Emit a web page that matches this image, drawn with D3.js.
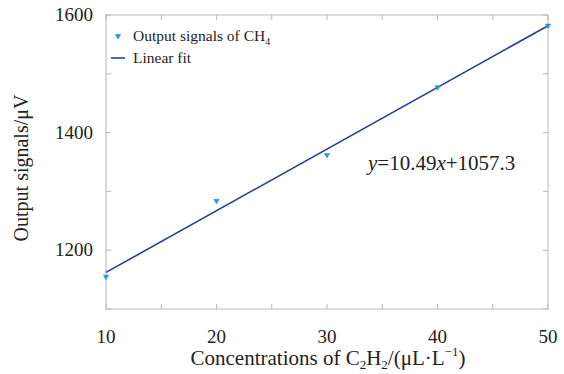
<!DOCTYPE html>
<html><head><meta charset="utf-8">
<script src="https://cdn.jsdelivr.net/npm/d3@7"></script>
<style>body{margin:0;background:#fff}text{font-family:"Liberation Serif","Times New Roman",serif;fill:#222}</style>
</head><body>
<svg id="c" width="564" height="374"></svg>
<script>
const concentrations = [10, 20, 30, 40, 50];
const outputSignals = [1155, 1284, 1362, 1477, 1582];
const fitSlope = 10.49, fitIntercept = 1057.3;
const xTickLabels = [10, 20, 30, 40, 50];
const yTickLabels = [1200, 1400, 1600];

const svg = d3.select("#c");
const L = 106, R = 548, T = 15, B = 309;
const x = d3.scaleLinear().domain([10, 50]).range([L, R]);
const y = d3.scaleLinear().domain([1100, 1600]).range([B, T]);
const frame = "#b8b8b8";

svg.append("rect").attr("x", L).attr("y", T).attr("width", R - L).attr("height", B - T)
  .attr("fill", "none").attr("stroke", frame).attr("stroke-width", 1);

const xt = d3.range(10, 50.1, 5), yt = d3.range(1100, 1600.1, 100);
const tl = 5;
xt.forEach(v => {
  svg.append("line").attr("x1", x(v)).attr("x2", x(v)).attr("y1", B).attr("y2", B - tl).attr("stroke", frame);
  svg.append("line").attr("x1", x(v)).attr("x2", x(v)).attr("y1", T).attr("y2", T + tl).attr("stroke", frame);
});
yt.forEach(v => {
  svg.append("line").attr("x1", L).attr("x2", L + tl).attr("y1", y(v)).attr("y2", y(v)).attr("stroke", frame);
  svg.append("line").attr("x1", R).attr("x2", R - tl).attr("y1", y(v)).attr("y2", y(v)).attr("stroke", frame);
});

xTickLabels.forEach(v => svg.append("text").attr("x", x(v)).attr("y", 343).attr("text-anchor", "middle")
  .attr("font-size", 19).text(v));
yTickLabels.forEach(v => svg.append("text").attr("x", 93).attr("y", y(v) + 6).attr("text-anchor", "end")
  .attr("font-size", 19).text(v));

const xl = svg.append("text").attr("x", 328).attr("y", 365).attr("text-anchor", "middle").attr("font-size", 21);
xl.append("tspan").text("Concentrations of C");
xl.append("tspan").attr("font-size", 13).attr("dy", 4).text("2");
xl.append("tspan").attr("dy", -4).text("H");
xl.append("tspan").attr("font-size", 13).attr("dy", 4).text("2");
xl.append("tspan").attr("dy", -4).text("/(μL·L");
xl.append("tspan").attr("font-size", 13).attr("dy", -9).text("−1");
xl.append("tspan").attr("dy", 9).text(")");

svg.append("text").attr("transform", "translate(28,168) rotate(-90)").attr("text-anchor", "middle")
  .attr("font-size", 20).text("Output signals/μV");

const lineColor = "#2b3d9c", ptColor = "#1e9ad6";
svg.append("path").datum([10, 50])
  .attr("d", d3.line().x(d => x(d)).y(d => y(fitSlope * d + fitIntercept)))
  .attr("stroke", lineColor).attr("stroke-width", 1.6).attr("fill", "none");

const tri = d3.symbol().type(d3.symbolTriangle).size(12);
svg.selectAll(".pt").data(concentrations).enter().append("path")
  .attr("d", tri).attr("fill", ptColor).attr("stroke", ptColor).attr("stroke-width", 0.6)
  .attr("transform", (d, i) => `translate(${x(d)},${y(outputSignals[i])}) rotate(180)`);

svg.append("path").attr("d", tri).attr("fill", ptColor).attr("stroke", ptColor).attr("stroke-width", 0.6)
  .attr("transform", "translate(118,36) rotate(180)");
const lg = svg.append("text").attr("x", 133).attr("y", 41).attr("font-size", 15.5);
lg.append("tspan").text("Output signals of CH");
lg.append("tspan").attr("font-size", 10).attr("dy", 4).text("4");
svg.append("line").attr("x1", 111).attr("x2", 125).attr("y1", 58).attr("y2", 58).attr("stroke", lineColor).attr("stroke-width", 1.6);
svg.append("text").attr("x", 133).attr("y", 63).attr("font-size", 15.5).text("Linear fit");

const eq = svg.append("text").attr("x", 368).attr("y", 170).attr("font-size", 21);
eq.append("tspan").attr("font-style", "italic").text("y");
eq.append("tspan").text("=10.49");
eq.append("tspan").attr("font-style", "italic").text("x");
eq.append("tspan").text("+1057.3");
</script>
</body></html>
